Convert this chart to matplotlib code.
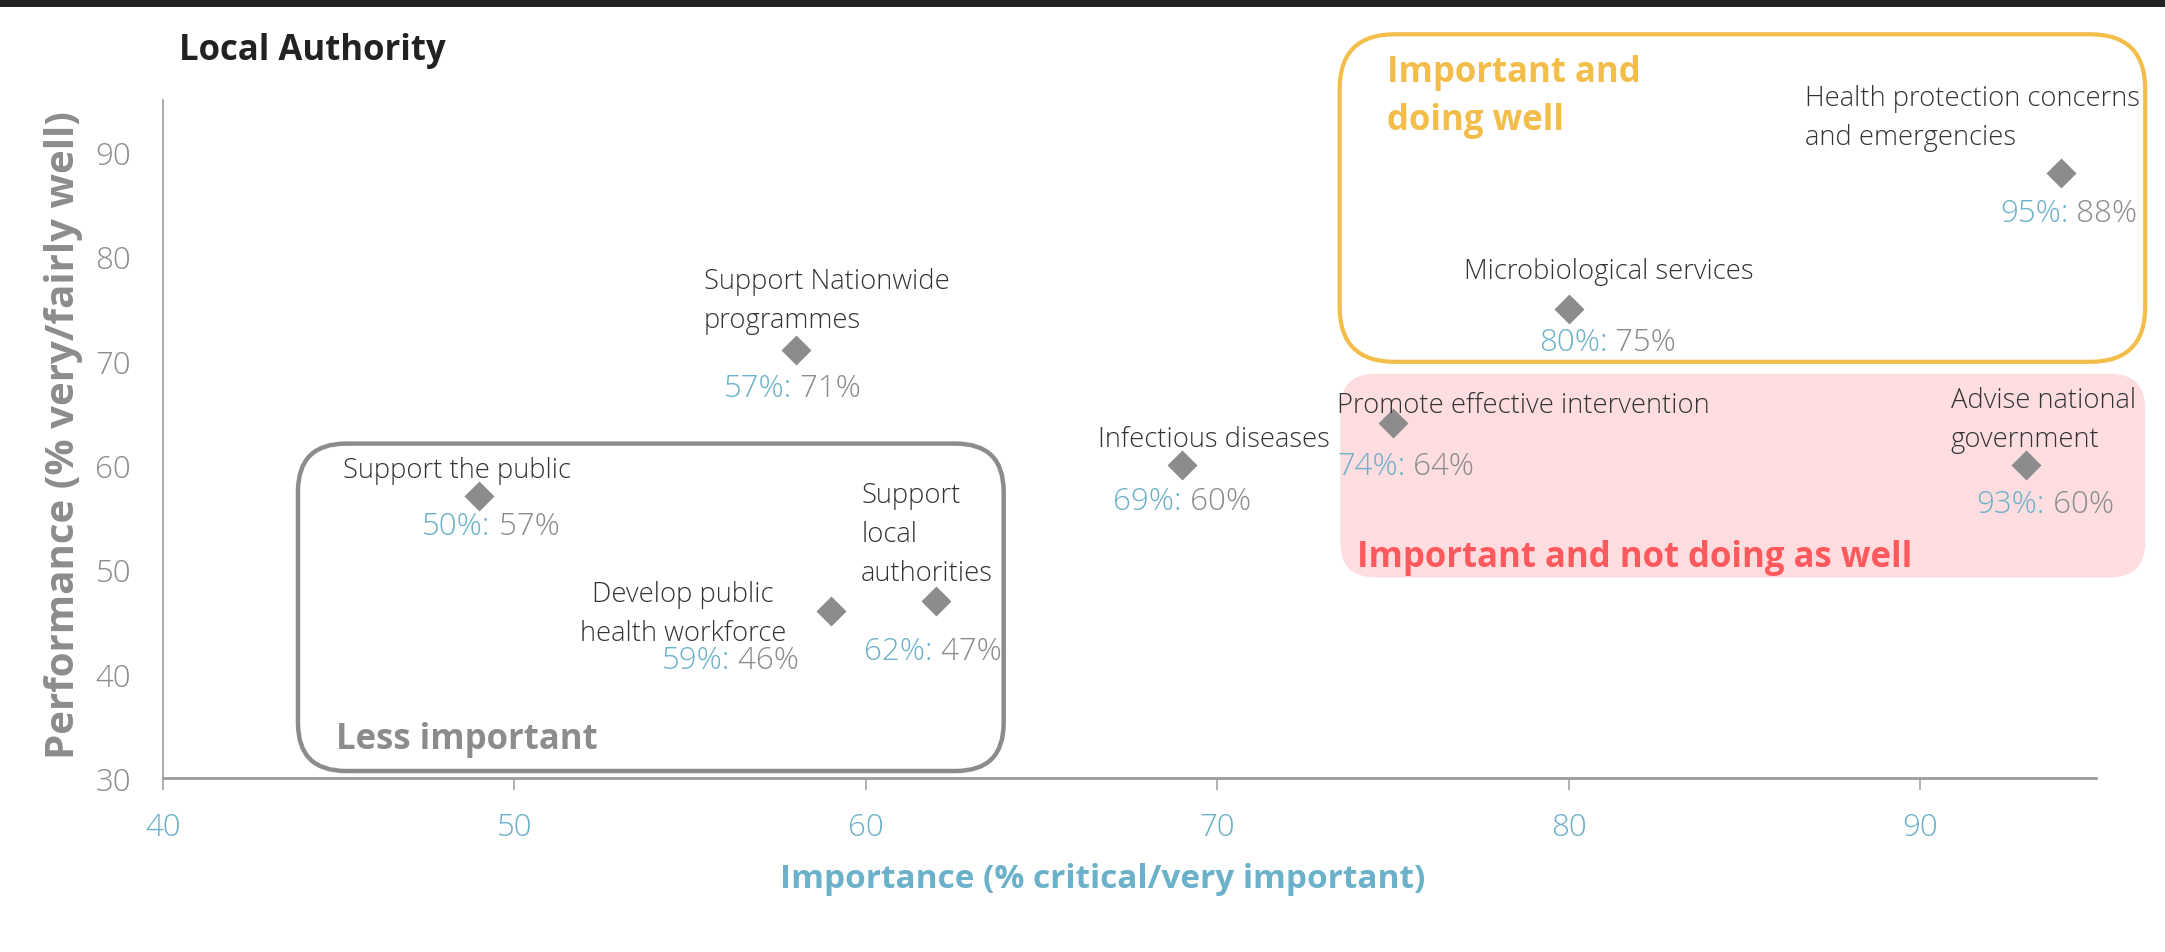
import matplotlib
matplotlib.use("Agg")
import matplotlib.pyplot as plt
from matplotlib.patches import FancyBboxPatch, Rectangle
from matplotlib.transforms import IdentityTransform

# ---------------- data ----------------
services = [
    "Health protection concerns\nand emergencies",
    "Microbiological services",
    "Support Nationwide\nprogrammes",
    "Infectious diseases",
    "Promote effective intervention",
    "Advise national\ngovernment",
    "Support the public",
    "Develop public\nhealth workforce",
    "Support\nlocal\nauthorities",
]
importance = [94, 80, 58, 69, 75, 93, 49, 59, 62]          # plotted x
performance = [88, 75, 71, 60, 64, 60, 57, 46, 47]         # plotted y
importance_label = [95, 80, 57, 69, 74, 93, 50, 59, 62]    # printed importance %
performance_label = [88, 75, 71, 60, 64, 60, 57, 46, 47]   # printed performance %

x_ticks = [40, 50, 60, 70, 80, 90]
y_ticks = [30, 40, 50, 60, 70, 80, 90]

title = "Local Authority"
x_title = "Importance (% critical/very important)"
y_title = "Performance (% very/fairly well)"

# quadrant regions in data units: (x0, y0, x1, y1)
region_less = (43.84, 30.67, 63.92, 62.06)
region_well = (73.48, 69.9, 96.4, 101.3)
region_notwell = (73.5, 49.23, 96.4, 68.76)

# ---------------- style ----------------
W, H, DPI = 2165, 953, 100
BLUE = "#6cb1ca"
GRAY = "#8c8c8c"
AXGRAY = "#9c9c9c"
BOXGRAY = "#8a8c8e"
YELLOW = "#f2bd48"
PINK = "#fddde0"
RED = "#ff585d"
NAME_C = "#333333"
TITLE_C = "#222222"

plt.rcParams["font.family"] = ["Open Sans", "DejaVu Sans"]
plt.rcParams["font.weight"] = "light"

NAME_FS = 19.7
VAL_FS = 22.5
TICK_FS = 22.5
PT = 72.0 / DPI


def px(x, y):
    return (x / W, 1 - y / H)


fig = plt.figure(figsize=(W / DPI, H / DPI), dpi=DPI)
fig.patch.set_facecolor("white")
fig.add_artist(Rectangle((0, 1 - 8 / H), 1, 8 / H, transform=fig.transFigure,
                         facecolor="#222222", edgecolor="none"))

ax = fig.add_axes([163 / W, 1 - 779 / H, (2096 - 163) / W, (779 - 101) / H])
ax.set_zorder(2)
ax.set_xlim(40, 95)
ax.set_ylim(30, 95)
ax.patch.set_alpha(0)
for s in ("top", "right"):
    ax.spines[s].set_visible(False)
ax.spines["left"].set_color(AXGRAY)
ax.spines["left"].set_linewidth(1.2)
ax.spines["bottom"].set_color(AXGRAY)
ax.spines["bottom"].set_linewidth(2.0)
ax.set_xticks(x_ticks)
ax.set_yticks(y_ticks)
ax.tick_params(axis="x", direction="out", length=8.5, width=1.1, color=AXGRAY,
               labelcolor=BLUE, labelsize=TICK_FS, pad=15)
ax.tick_params(axis="y", length=0, labelcolor=GRAY, labelsize=TICK_FS, pad=23)


def region_box(region, radius, **kw):
    x0, y0 = ax.transData.transform((region[0], region[1]))
    x1, y1 = ax.transData.transform((region[2], region[3]))
    p = FancyBboxPatch((x0, y0), x1 - x0, y1 - y0,
                       boxstyle=f"round,pad=0,rounding_size={radius}",
                       transform=IdentityTransform(), clip_on=False, **kw)
    fig.add_artist(p)
    return p


region_box(region_notwell, 35, facecolor=PINK, edgecolor="none", zorder=0.5)
region_box(region_less, 48, facecolor="none", edgecolor=BOXGRAY, linewidth=3.2, zorder=1)
region_box(region_well, 55, facecolor="none", edgecolor=YELLOW, linewidth=3.0, zorder=1)

ax.plot(importance, performance, linestyle="none", marker="D", markersize=15.5,
        color=GRAY, markeredgecolor="none", zorder=5, clip_on=False)

# label layout (pixel offsets from the point; +dy = downwards)
name_layout = [("left", -256, -78), ("center", 40, -40), ("left", -92, -72),
               ("center", 32, -29), ("left", -56, -21), ("left", -75, -68),
               ("left", -136, -29), ("center", -148, -20), ("left", -75, -108)]
value_layout = [(-61, 37), (-30, 30), (-72, 35), (-69, 33), (-56, 39),
                (-49, 36), (-57, 26), (-169, 46), (-72, 47)]
PITCH = 39
BASE_N = 0.357 * NAME_FS / PT
BASE_V = 0.357 * VAL_FS / PT

for name, x, y, il, pl, (ha, ndx, ndy), (vdx, vdy) in zip(
        services, importance, performance, importance_label, performance_label,
        name_layout, value_layout):
    for i, line in enumerate(name.split("\n")):
        dy = ndy + i * PITCH + BASE_N
        ax.annotate(line, (x, y), xytext=(ndx * PT, -dy * PT), textcoords="offset points",
                    ha=ha, va="baseline", fontsize=NAME_FS, color=NAME_C,
                    annotation_clip=False, zorder=6)
    dy = vdy + BASE_V
    t1 = ax.annotate(f"{il}%:", (x, y), xytext=(vdx * PT, -dy * PT), textcoords="offset points",
                     ha="left", va="baseline", fontsize=VAL_FS, color=BLUE,
                     annotation_clip=False, zorder=6)
    ax.annotate(f" {pl}%", xy=(1, 0), xycoords=t1, ha="left", va="bottom",
                fontsize=VAL_FS, color=GRAY, annotation_clip=False, zorder=6)

# titles and region labels
fig.text(*px(179, 60), title, fontsize=25, fontweight="bold", color=TITLE_C, va="baseline")
fig.text(*px(64, 435), y_title, fontsize=29, fontweight="bold", color=GRAY,
         rotation=90, ha="center", va="center")
fig.text(*px(1103, 888), x_title, fontsize=24, fontweight="bold", color=BLUE,
         ha="center", va="baseline")
fig.text(*px(336, 749), "Less important", fontsize=25, fontweight="bold", color=BOXGRAY,
         va="baseline")
fig.text(*px(1387, 82), "Important and", fontsize=25, fontweight="bold", color=YELLOW,
         va="baseline")
fig.text(*px(1387, 130), "doing well", fontsize=25, fontweight="bold", color=YELLOW,
         va="baseline")
fig.text(*px(1357, 567), "Important and not doing as well", fontsize=25, fontweight="bold",
         color=RED, va="baseline")

fig.savefig("out.png", dpi=DPI, facecolor="white")
